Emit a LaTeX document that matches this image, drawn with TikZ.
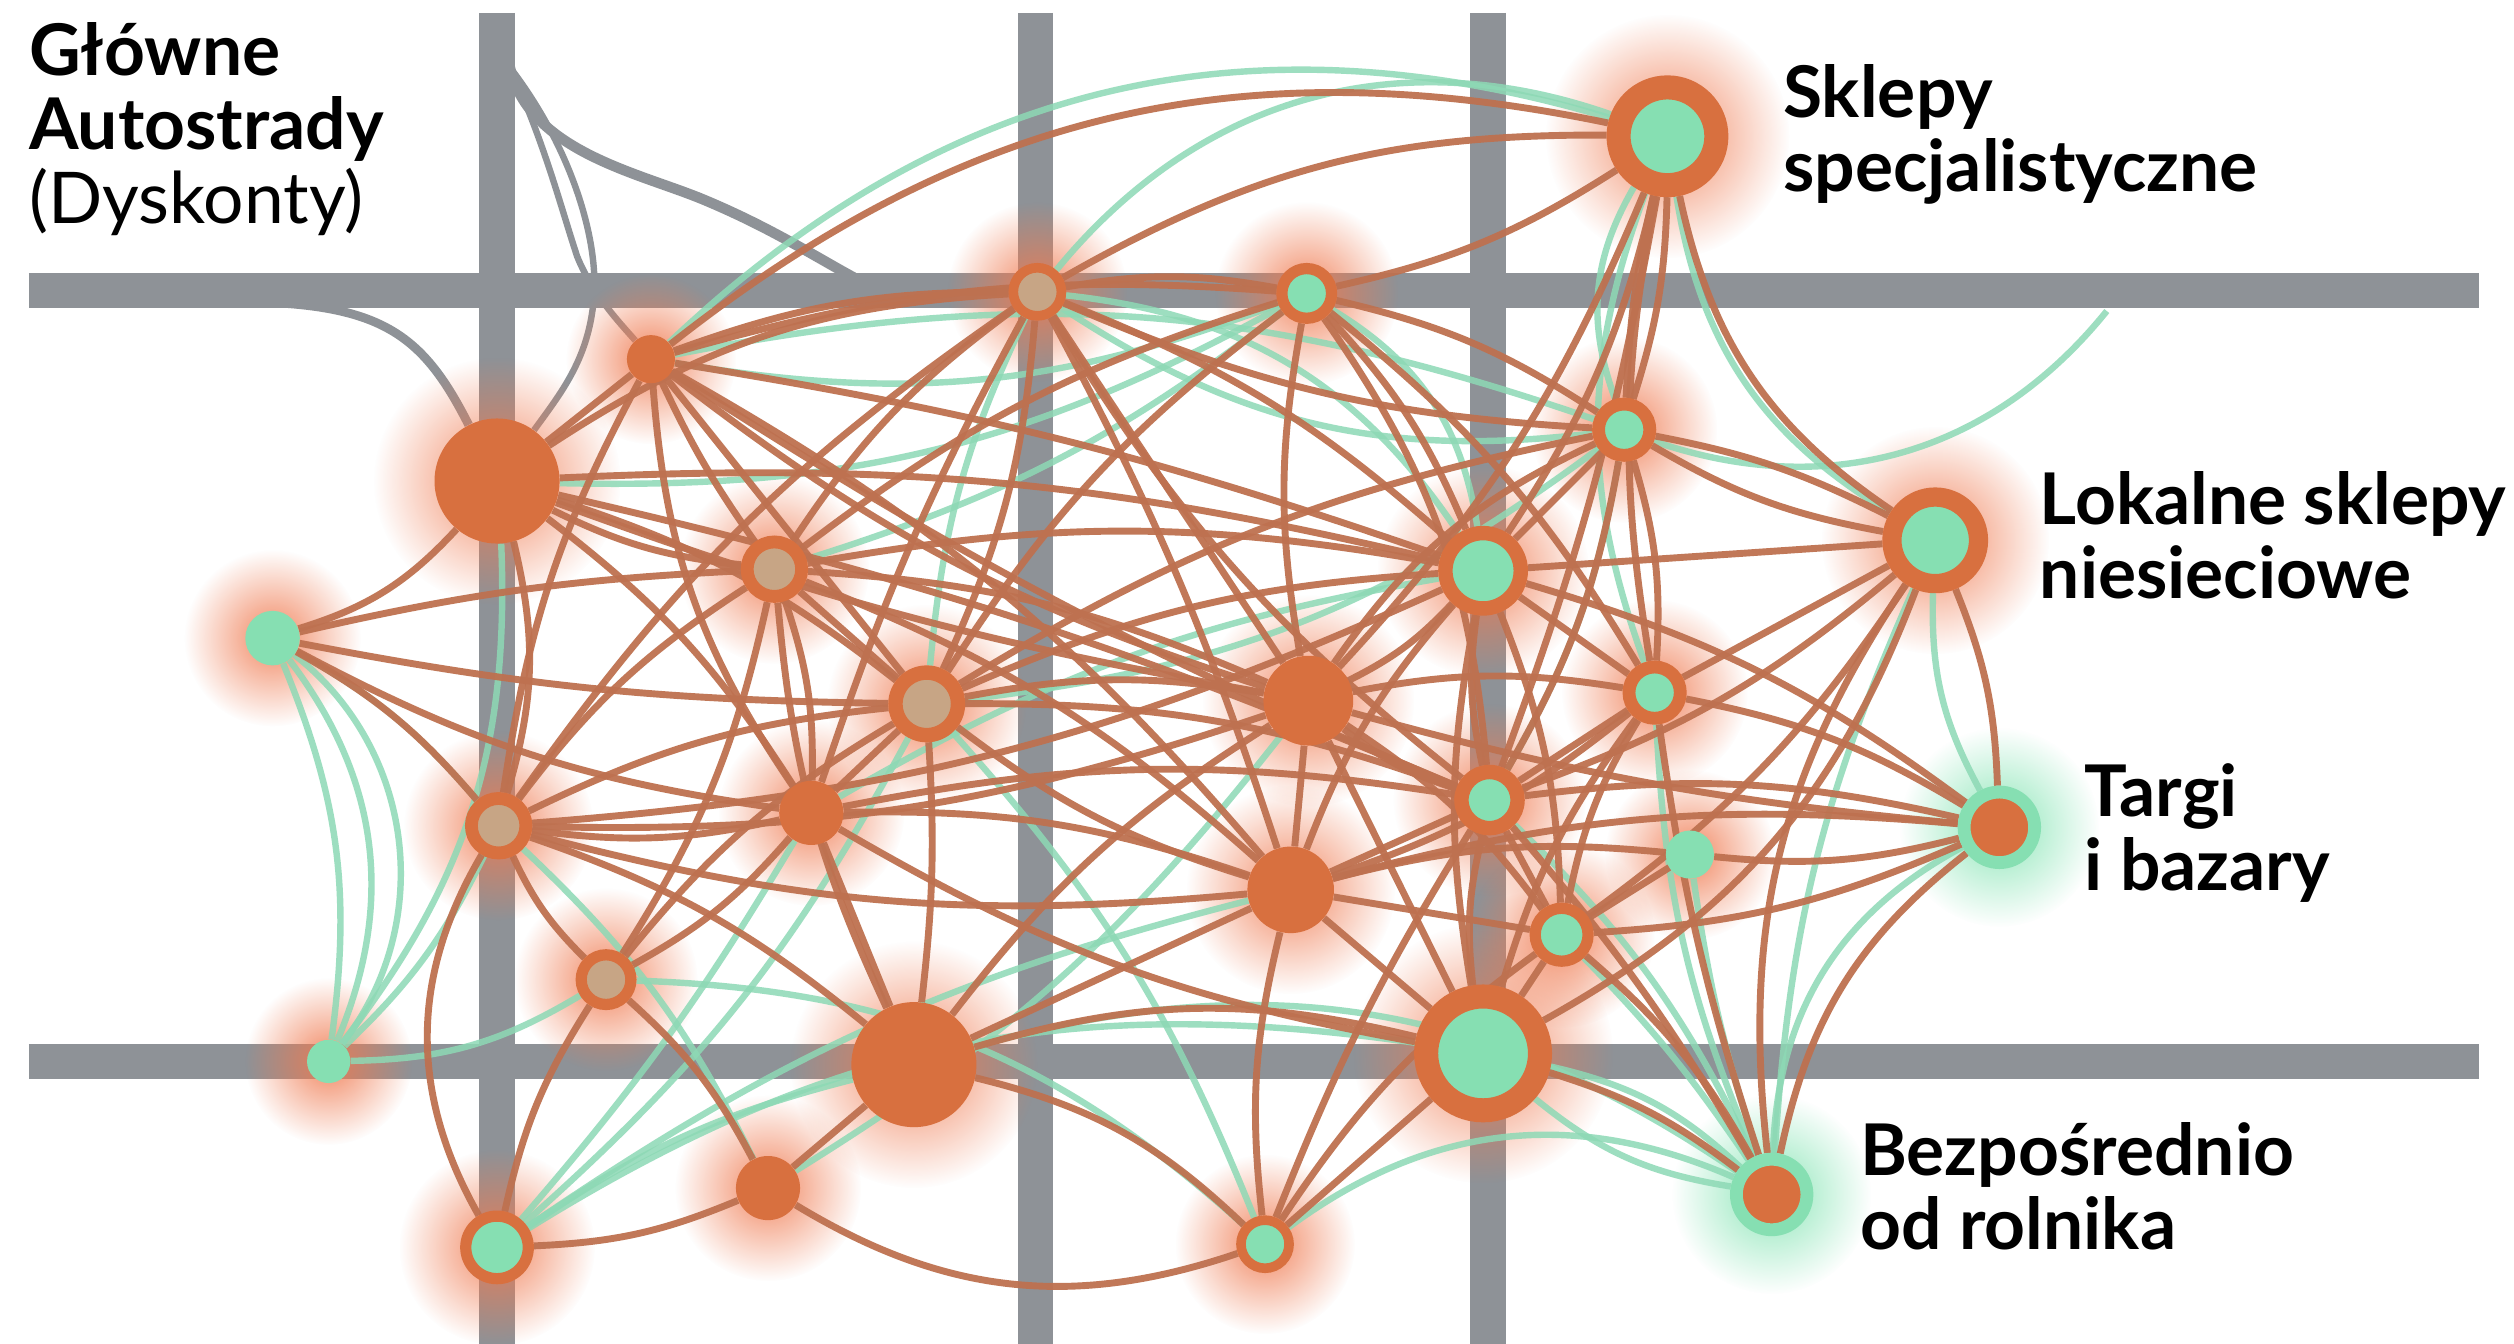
\documentclass[tikz,border=0pt]{standalone}
\usepackage{fontspec}
\setmainfont{Lato}
\usetikzlibrary{fadings}

\definecolor{cnode}{HTML}{D8703F}
\definecolor{clink}{HTML}{BE7150}
\definecolor{cgreen}{HTML}{86DFB2}
\definecolor{ctrail}{HTML}{8DD9B5}
\definecolor{ctan}{HTML}{C7A585}
\definecolor{croad}{HTML}{8E9297}
\definecolor{cglow}{HTML}{F07A50}
\definecolor{cglowG}{HTML}{7FE3B0}

\tikzfading[name=glowfade, inner color=transparent!10, outer color=transparent!100]

\pgfdeclarelayer{paper}
\pgfdeclarelayer{roads}
\pgfdeclarelayer{glow}
\pgfdeclarelayer{trails}
\pgfdeclarelayer{links}
\pgfsetlayers{paper,roads,glow,trails,links,main}

\tikzset{
  hub/.style={circle, inner sep=0pt, fill=cnode, minimum size=#1},
  ring/.style={circle, inner sep=0pt, fill=cgreen, draw=cnode, minimum size=#1},
  ringtan/.style={ring=#1, fill=ctan},
  spot/.style={circle, inner sep=0pt, fill=cgreen, minimum size=#1},
  market/.style={circle, inner sep=0pt, fill=cnode, draw=cgreen, minimum size=#1},
  road/.style={croad, line width=22pt},
  ramp/.style={croad, line width=5.5pt},
  link/.style={clink, line width=4.3pt, opacity=0.95},
  trail/.style={ctrail, line width=4pt, opacity=0.85},
  caption/.style={anchor=north west, inner sep=0pt, align=left,
                  font=\fontsize{44.5}{46}\selectfont\bfseries},
}

\begin{document}
\begin{tikzpicture}[x=1pt, y=-1pt]
  \begin{pgfonlayer}{paper}
    \fill[white] (0,0) rectangle (1568,838);
  \end{pgfonlayer}
  \useasboundingbox (0,0) rectangle (1568,838);

  % shops and points of sale
  \node[ring=61pt, line width=15pt] (spec) at (1040,85) {};
  \node[ring=54pt, line width=12pt] (lokal) at (1207,337) {};
  \node[market=44pt, line width=8pt] (targi) at (1247,516) {};
  \node[market=44pt, line width=8pt] (rolnik) at (1105,745) {};
  \node[hub=78pt] (n1) at (310,300) {};
  \node[hub=30pt] (n2) at (406,224) {};
  \node[spot=34pt] (n3) at (170,398) {};
  \node[ringtan=30pt, line width=6pt] (n4) at (647,182) {};
  \node[ring=31pt, line width=7pt] (n5) at (815,183) {};
  \node[ring=32pt, line width=8pt] (n6) at (1013,268) {};
  \node[ringtan=34pt, line width=8pt] (n7) at (483,355) {};
  \node[ring=47pt, line width=9pt] (n8) at (925,356) {};
  \node[ringtan=39pt, line width=9pt] (n9) at (578,439) {};
  \node[hub=56pt] (n10) at (816,437) {};
  \node[ring=32pt, line width=8pt] (n11) at (1032,432) {};
  \node[ringtan=34pt, line width=8pt] (n12) at (311,515) {};
  \node[hub=40pt] (n13) at (506,507) {};
  \node[ring=35pt, line width=9pt] (n14) at (929,499) {};
  \node[hub=54pt] (n15) at (805,555) {};
  \node[spot=30pt] (n16) at (1054,533) {};
  \node[ring=33pt, line width=7pt] (n17) at (974,583) {};
  \node[ringtan=31pt, line width=7pt] (n18) at (378,611) {};
  \node[spot=27pt] (n19) at (205,662) {};
  \node[hub=78pt] (n20) at (570,664) {};
  \node[ring=71pt, line width=15pt] (n21) at (925,657) {};
  \node[hub=40pt] (n22) at (479,741) {};
  \node[ring=39pt, line width=7pt] (n23) at (310,778) {};
  \node[ring=30pt, line width=6pt] (n24) at (789,776) {};

  % ramp ends on the roads
  \coordinate (rampA) at (318,42);
  \coordinate (rampB) at (550,182);
  \coordinate (rampC) at (140,188);
  \coordinate (trailEnd) at (1314,194);

  % labels
  \node[caption] (tMain) at (18,14) {Główne\\Autostrady\\\mdseries(Dyskonty)};
  \node[caption] (tSpec) at (1112,40) {Sklepy\\specjalistyczne};
  \node[caption] (tLokal) at (1272,294) {Lokalne sklepy\\niesieciowe};
  \node[caption] (tTargi) at (1300,476) {Targi\\i bazary};
  \node[caption] (tRolnik) at (1160,700) {Bezpośrednio\\od rolnika};

  % road grid
  \begin{pgfonlayer}{roads}
    \foreach \x in {310,646,928}
      \draw[road] (\x,8) -- (\x,838);
    \foreach \y in {181,662}
      \draw[road] (18,\y) -- (1546,\y);
    \draw[ramp, line width=6.5pt] (rampA) .. controls (330,95) and (400,108) .. (440,125)
      .. controls (490,146) and (520,168) .. (rampB);
    \draw[ramp, line width=4pt] (rampA) .. controls (340,90) and (350,130) .. (360,160)
      .. controls (370,185) and (390,205) .. (n2);
    \draw[ramp, line width=4pt] (rampA) .. controls (355,90) and (375,150) .. (370,190)
      .. controls (366,225) and (350,245) .. (n1);
    \draw[ramp] (rampC) .. controls (235,188) and (262,205) .. (n1);
  \end{pgfonlayer}

  % halos, radius = node radius + 38
  \begin{pgfonlayer}{glow}
    \foreach \nd/\r in {spec/38, lokal/33, n1/39, n2/15, n3/17, n4/18, n5/19,
        n6/20, n7/21, n8/28, n9/24, n10/28, n11/20, n12/21, n13/20, n14/22,
        n15/27, n16/15, n17/20, n18/19, n19/14, n20/39, n21/43, n22/20,
        n23/23, n24/18}
      \fill[cglow, path fading=glowfade] (\nd) circle ({\r+38});
    \foreach \nd in {targi, rolnik}
      \fill[cglowG, path fading=glowfade] (\nd) circle (62);
  \end{pgfonlayer}

  % green trails
  \begin{pgfonlayer}{trails}
    \foreach \a/\b/\c in {n3/n19/15, n3/n19/30, n3/n19/45, n3/n12/10,
        n19/n18/-15, n19/n12/-10, n19/n1/-20, n23/n20/10, n23/n21/20,
        n23/n9/-10, n23/n13/-5, n24/rolnik/30, n21/rolnik/-15,
        n21/rolnik/15, n20/rolnik/25, targi/rolnik/-30, lokal/rolnik/-10,
        lokal/targi/-15, spec/lokal/-25, spec/n4/-35, spec/n2/-30,
        n6/trailEnd/-35, n5/n7/10, n5/n1/15, n4/n9/-10, n6/n9/15,
        n8/n13/-10, n10/n22/10, n14/rolnik/10, n16/rolnik/-5,
        n17/rolnik/5, n11/rolnik/-10, n15/n23/-10, n12/n22/10,
        n18/n24/20, n2/n5/-15, n9/n24/10, n4/n6/-20, n5/n8/25,
        n4/n8/25, n2/n6/15, n6/n14/10, spec/n6/-25, spec/n11/-20}
      \draw[trail] (\a) to[bend left=\c] (\b);
  \end{pgfonlayer}

  % orange links
  \begin{pgfonlayer}{links}
    \foreach \a/\b/\c in {n2/spec/25, n4/spec/15, n5/spec/-10, n6/spec/5,
        n6/spec/-8, n8/spec/-10, n11/spec/10, lokal/spec/22, n14/spec/-5,
        n10/spec/-10,
        n1/n3/15, n1/n2/0, n1/n7/-10, n1/n9/10, n1/n13/10, n1/n12/15,
        n1/n8/8, n1/n10/-5, n1/n14/5, n1/n4/15,
        n2/n4/10, n2/n7/-5, n2/n9/0, n2/n10/-10, n2/n13/-15, n2/n12/-10,
        n2/n8/5, n2/n14/-5, n2/n15/10, n2/n5/10,
        n3/n7/5, n3/n9/-5, n3/n12/10, n3/n13/-10,
        n4/n5/10, n4/n6/-10, n4/n7/-10, n4/n9/10, n4/n10/0, n4/n8/10,
        n4/n12/-10, n4/n14/-10, n4/n15/5, n4/n13/-5,
        n5/n6/10, n5/n8/10, n5/n10/-10, n5/n9/-10, n5/n14/15, n5/n11/10,
        n5/n7/-10,
        n6/n8/0, n6/lokal/-10, n6/lokal/8, n6/n11/10, n6/n10/-15, n6/n14/10,
        n6/n9/-10,
        n7/n9/0, n7/n13/10, n7/n12/-10, n7/n10/10, n7/n20/-10, n7/n15/10,
        n7/n18/10, n7/n8/10,
        n8/lokal/0, n8/n11/0, n8/n14/-10, n8/n10/10, n8/n15/-10, n8/n17/10,
        n8/n9/-10, n8/n12/10, n8/targi/10, n8/n21/-10,
        n9/n10/10, n9/n13/0, n9/n15/-10, n9/n20/5, n9/n18/-10, n9/n12/-10,
        n9/n14/10,
        n10/n15/0, n10/n14/-10, n10/n20/-10, n10/n17/10, n10/n11/10,
        n10/n12/10, n10/targi/-5, n10/n21/0,
        n11/lokal/0, n11/targi/10, n11/n14/0, n11/n17/-10, n11/n15/10,
        n11/n21/-10, n11/rolnik/-5,
        n12/n13/-10, n12/n18/-10, n12/n15/-10, n12/n20/10, n12/n23/-30,
        n13/n15/10, n13/n20/0, n13/n18/10, n13/n14/10, n13/n21/-10,
        n14/targi/10, n14/n17/0, n14/n21/-10, n14/n15/0, n14/rolnik/5,
        n15/n17/0, n15/n20/0, n15/n21/0, n15/n24/-10, n15/n16/10,
        n15/targi/10,
        n16/targi/-10, n16/n17/0,
        n17/targi/-10, n17/rolnik/10, n17/n21/0, n17/lokal/-10,
        n18/n22/10, n18/n23/-10,
        n20/n22/0, n20/n21/15, n20/n24/15,
        n21/n24/0, n21/rolnik/10, n21/lokal/-20,
        n22/n23/10, n22/n24/-25,
        n24/n17/10, n24/n14/5,
        lokal/targi/10, lokal/rolnik/-20, lokal/n14/10,
        targi/rolnik/-20}
      \draw[link] (\a) to[bend left=\c] (\b);
  \end{pgfonlayer}
\end{tikzpicture}
\end{document}
